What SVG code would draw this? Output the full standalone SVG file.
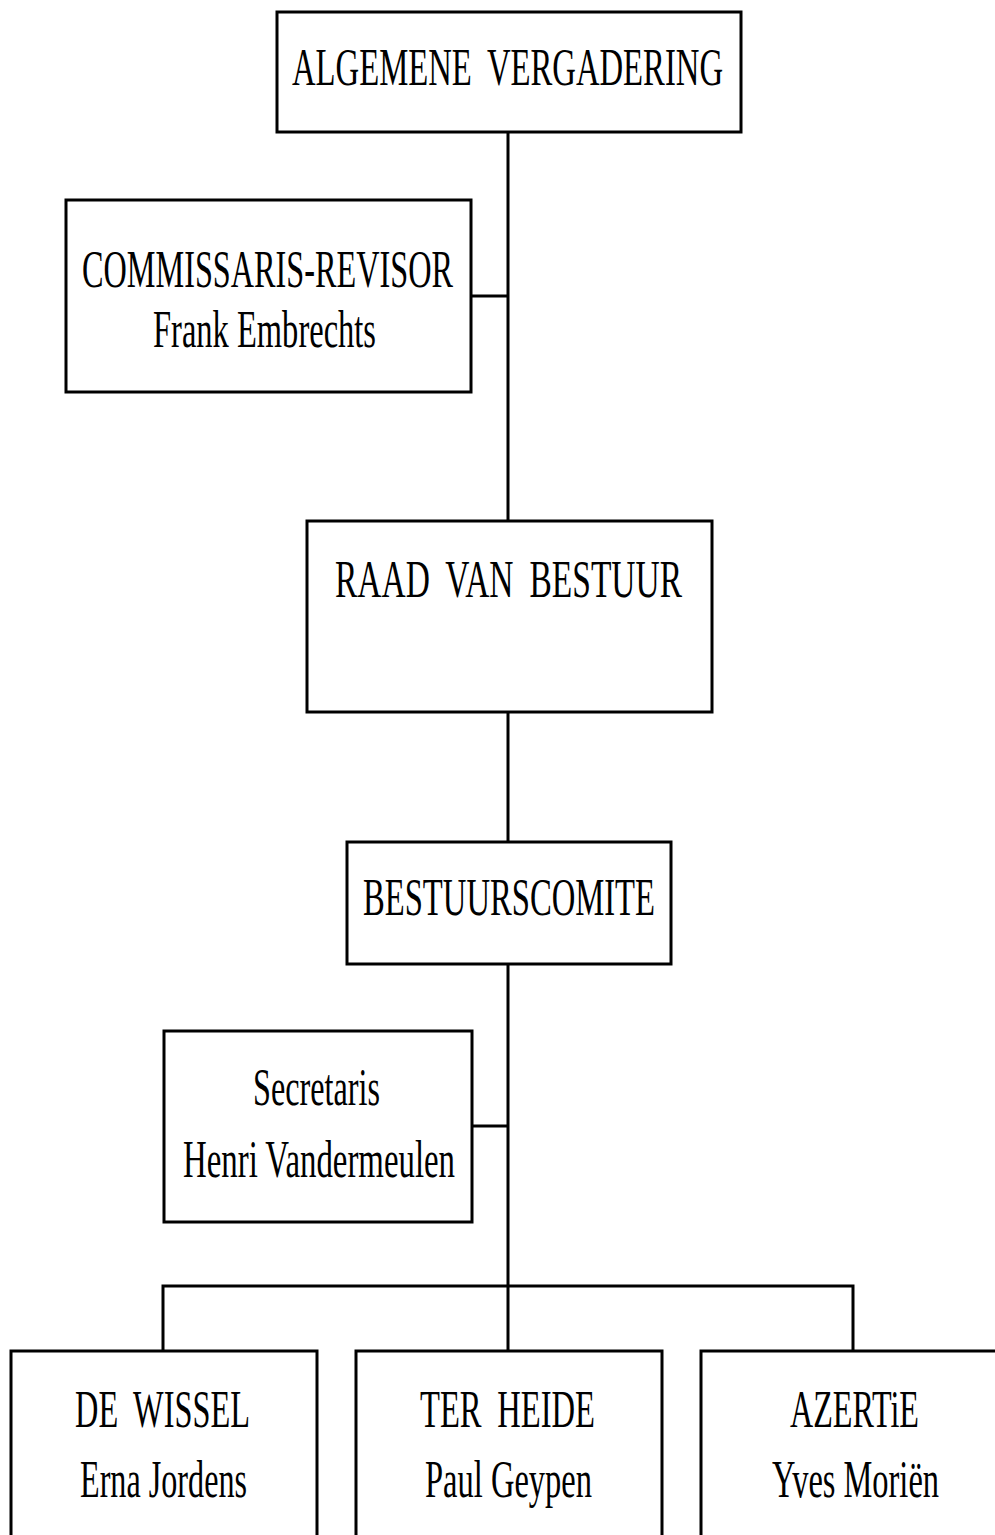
<svg xmlns="http://www.w3.org/2000/svg" width="995" height="1535" viewBox="0 0 995 1535">
<style>
.box{fill:#fff;stroke:#000;stroke-width:3}
.ln{fill:none;stroke:#000;stroke-width:3}
text{font-family:"Liberation Serif","Times New Roman",serif;font-size:52px;fill:#000;text-anchor:middle}
.ws{word-spacing:12px}
</style>
<rect width="995" height="1535" fill="#fff"/>
<g id="connectors">
<path class="ln" d="M508 132V521"/>
<path class="ln" d="M471 296H508"/>
<path class="ln" d="M508 712V842"/>
<path class="ln" d="M508 964V1351"/>
<path class="ln" d="M472 1126H508"/>
<path class="ln" d="M163 1351V1286H853V1351"/>
</g>
<g id="algemene-vergadering">
<rect class="box" x="277" y="12" width="464" height="120"/>
<text class="ws" x="507.5" y="85" textLength="431" lengthAdjust="spacingAndGlyphs">ALGEMENE VERGADERING</text>
</g>
<g id="commissaris-revisor">
<rect class="box" x="66" y="200" width="405" height="192"/>
<text x="267.5" y="287" textLength="371" lengthAdjust="spacingAndGlyphs">COMMISSARIS-REVISOR</text>
<text x="264.5" y="347" textLength="223" lengthAdjust="spacingAndGlyphs">Frank Embrechts</text>
</g>
<g id="raad-van-bestuur">
<rect class="box" x="307" y="521" width="405" height="191"/>
<text class="ws" x="508.5" y="597" textLength="347" lengthAdjust="spacingAndGlyphs">RAAD VAN BESTUUR</text>
</g>
<g id="bestuurscomite">
<rect class="box" x="347" y="842" width="324" height="122"/>
<text x="509" y="915" textLength="292" lengthAdjust="spacingAndGlyphs">BESTUURSCOMITE</text>
</g>
<g id="secretaris">
<rect class="box" x="164" y="1031" width="308" height="191"/>
<text x="316.5" y="1105" textLength="127" lengthAdjust="spacingAndGlyphs">Secretaris</text>
<text x="319" y="1177" textLength="272" lengthAdjust="spacingAndGlyphs">Henri Vandermeulen</text>
</g>
<g id="de-wissel">
<path class="box" d="M11 1535V1351H317V1535"/>
<text class="ws" x="162.5" y="1427" textLength="175" lengthAdjust="spacingAndGlyphs">DE WISSEL</text>
<text x="163.5" y="1497" textLength="167" lengthAdjust="spacingAndGlyphs">Erna Jordens</text>
</g>
<g id="ter-heide">
<path class="box" d="M356 1535V1351H662V1535"/>
<text class="ws" x="507.5" y="1427" textLength="175" lengthAdjust="spacingAndGlyphs">TER HEIDE</text>
<text x="508.5" y="1497" textLength="167" lengthAdjust="spacingAndGlyphs">Paul Geypen</text>
</g>
<g id="azertie">
<path class="box" d="M701 1535V1351H995"/>
<text x="854.5" y="1427" textLength="129" lengthAdjust="spacingAndGlyphs">AZERTiE</text>
<text x="855.5" y="1497" textLength="167" lengthAdjust="spacingAndGlyphs">Yves Moriën</text>
</g>
</svg>
